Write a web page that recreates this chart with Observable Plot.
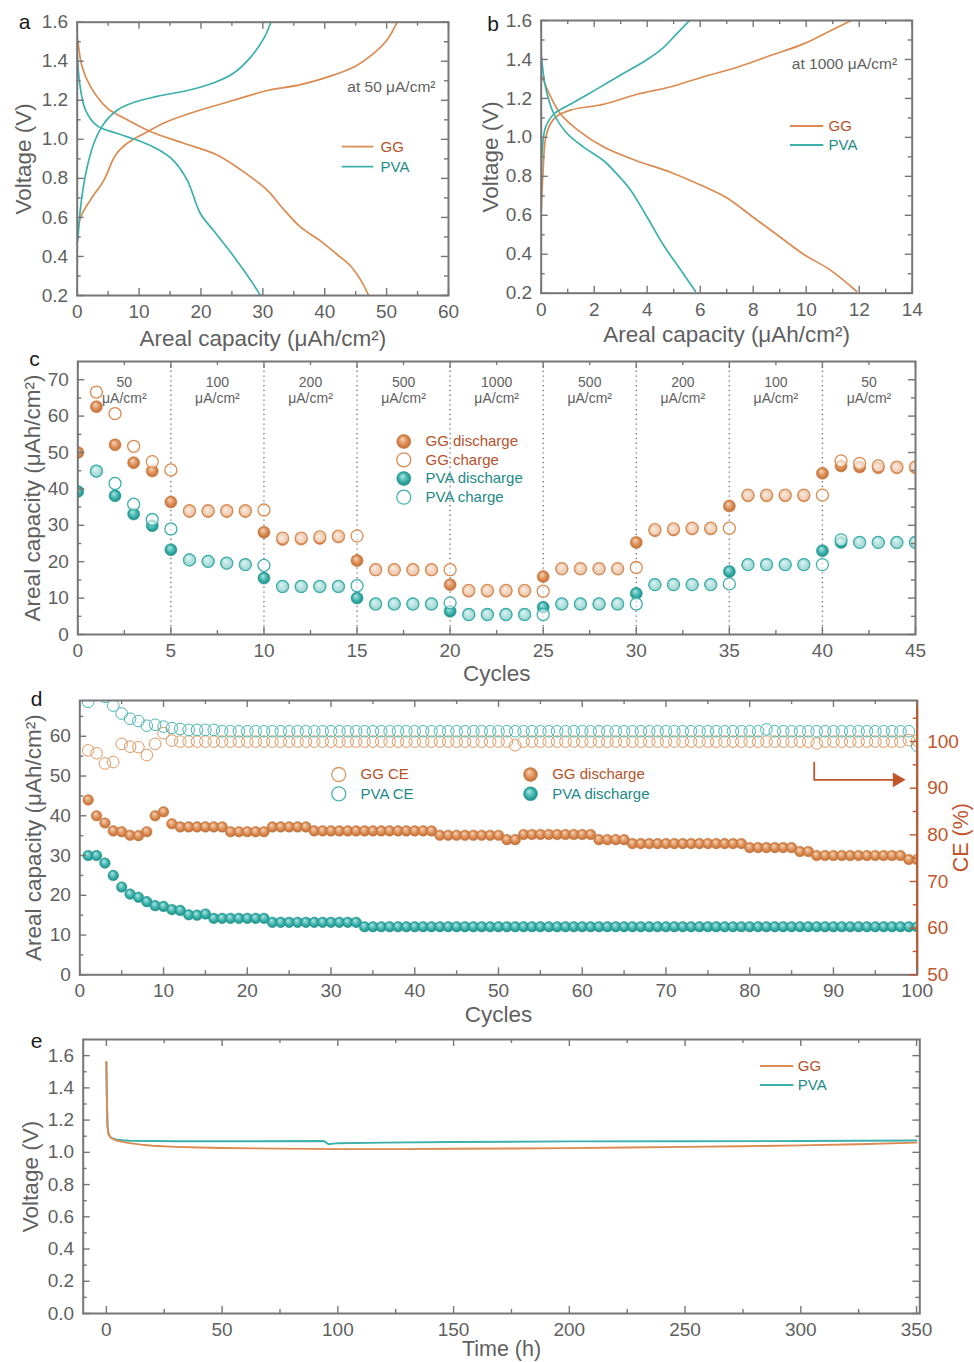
<!DOCTYPE html>
<html><head><meta charset="utf-8">
<script src="https://cdn.jsdelivr.net/npm/d3@7"></script>
<script src="https://cdn.jsdelivr.net/npm/@observablehq/plot@0.6"></script>
<style>
body{margin:0;background:#fff;}
#fig{position:relative;width:974px;height:1362px;overflow:hidden;background:#fff;}
</style></head><body><div id="fig"></div>
<script>
// ================= DATA =================
// Panel a (50 uA/cm2): capacity (uAh/cm2) vs voltage (V)
const aGGchgCap = [0, 0.54, 2.15, 4.3, 6.2, 8.1, 10.8, 14.5, 19.9, 25.3, 30.7, 36.1, 41.5, 44.7, 47.9, 50.1, 51.7];
const aGGchgV   = [0.50, 0.60, 0.69, 0.79, 0.92, 0.98, 1.03, 1.09, 1.15, 1.20, 1.25, 1.28, 1.33, 1.37, 1.44, 1.51, 1.60];
const aGGdisCap = [0.1, 0.8, 2.15, 4.85, 8.1, 11.8, 17.2, 22.6, 27.5, 30.7, 33.4, 36.1, 39.3, 42.0, 44.2, 45.8, 47.1];
const aGGdisV   = [1.51, 1.37, 1.27, 1.16, 1.10, 1.04, 0.98, 0.92, 0.82, 0.74, 0.64, 0.55, 0.48, 0.41, 0.35, 0.28, 0.20];
const aPVAchgCap = [0.1, 0.54, 1.35, 2.7, 4.3, 6.5, 9.2, 12.9, 17.8, 22.1, 25.3, 28.0, 30.2, 31.3];
const aPVAchgV   = [0.48, 0.65, 0.82, 0.98, 1.08, 1.15, 1.19, 1.22, 1.25, 1.29, 1.34, 1.42, 1.52, 1.60];
const aPVAdisCap = [0, 0.43, 1.35, 3.2, 6.5, 10.2, 13.5, 15.6, 17.8, 19.9, 22.1, 25.3, 28.0, 29.6];
const aPVAdisV   = [1.45, 1.28, 1.15, 1.07, 1.03, 0.99, 0.94, 0.89, 0.79, 0.62, 0.53, 0.40, 0.28, 0.20];

// Panel b (1000 uA/cm2)
const bGGchgCap = [0, 0.08, 0.16, 0.35, 0.6, 1.1, 2.36, 3.6, 4.9, 6.1, 7.4, 8.65, 9.9, 10.8, 11.7];
const bGGchgV   = [0.62, 0.85, 0.99, 1.07, 1.11, 1.14, 1.17, 1.22, 1.26, 1.31, 1.36, 1.42, 1.48, 1.54, 1.60];
const bGGdisCap = [0.04, 0.35, 0.73, 1.36, 2.36, 3.6, 4.9, 6.1, 7.0, 8.0, 9.0, 9.9, 10.9, 11.9];
const bGGdisV   = [1.31, 1.21, 1.12, 1.04, 0.95, 0.88, 0.82, 0.75, 0.69, 0.59, 0.49, 0.40, 0.32, 0.21];
const bPVAchgCap = [0, 0.04, 0.16, 0.48, 1.1, 2.0, 3.0, 4.0, 4.6, 5.1, 5.6];
const bPVAchgV   = [0.70, 0.93, 1.05, 1.12, 1.17, 1.24, 1.32, 1.40, 1.46, 1.53, 1.60];
const bPVAdisCap = [0, 0.16, 0.48, 0.98, 1.6, 2.36, 2.87, 3.37, 4.0, 4.6, 5.26, 5.82];
const bPVAdisV   = [1.43, 1.26, 1.12, 1.02, 0.95, 0.88, 0.81, 0.73, 0.59, 0.45, 0.32, 0.21];

// Panel c: rate capability, index = cycle number (0..45)
const cGGdis = [50.0, 62.6, 52.1, 47.2, 44.9, 36.4, 33.8, 33.8, 33.8, 33.8, 28.1, 26.1, 26.2, 26.4, 26.8, 20.3, 17.8, 17.8, 17.8, 17.8, 13.7, 11.9, 11.9, 11.9, 11.9, 15.9, 18.0, 18.0, 18.0, 18.0, 25.3, 28.5, 28.7, 29.0, 29.0, 35.3, 38.1, 38.1, 38.1, 38.1, 44.3, 46.3, 46.0, 45.8, 45.8, 45.8];
const cGGchg = [null, 66.6, 60.7, 51.7, 47.5, 45.2, 34.0, 34.0, 34.0, 34.0, 34.2, 26.5, 26.5, 26.8, 27.0, 27.1, 17.8, 17.8, 17.8, 17.8, 17.8, 12.1, 12.1, 12.1, 12.1, 11.9, 18.1, 18.1, 18.1, 18.1, 18.4, 28.8, 29.0, 29.2, 29.2, 29.2, 38.3, 38.3, 38.3, 38.3, 38.3, 47.7, 47.0, 46.3, 46.0, 46.0];
const cPVAdis = [39.3, 44.9, 38.1, 33.1, 29.9, 23.3, 20.5, 20.1, 19.6, 19.2, 15.5, 13.2, 13.2, 13.2, 13.2, 10.0, 8.4, 8.4, 8.4, 8.4, 6.4, 5.5, 5.5, 5.5, 5.5, 7.5, 8.4, 8.4, 8.4, 8.4, 11.3, 13.7, 13.7, 13.7, 13.7, 17.3, 19.2, 19.2, 19.2, 19.2, 23.0, 25.3, 25.3, 25.3, 25.3, 25.3];
const cPVAchg = [null, 44.9, 41.5, 35.8, 31.6, 29.0, 20.5, 20.1, 19.6, 19.2, 19.0, 13.2, 13.2, 13.2, 13.2, 13.4, 8.4, 8.4, 8.4, 8.4, 8.7, 5.5, 5.5, 5.5, 5.5, 5.5, 8.4, 8.4, 8.4, 8.4, 8.4, 13.7, 13.7, 13.7, 13.7, 13.9, 19.2, 19.2, 19.2, 19.2, 19.2, 26.0, 25.3, 25.3, 25.3, 25.3];
const cRates = [50, 100, 200, 500, 1000, 500, 200, 100, 50];
const cSegStart = [0, 5, 10, 15, 20, 25, 30, 35, 40];
const cBounds = [5, 10, 15, 20, 25, 30, 35, 40];

// Panel d: cycling, index+1 = cycle number (1..100)
const dGGdis = [44, 40, 38.2, 36.2, 36, 35.1, 35, 36, 40, 41,
  38, 37.2, 37.2, 37.2, 37.2, 37.2, 37.2, 36, 36, 36,
  36, 36, 37.2, 37.2, 37.2, 37.2, 37.2, 36.2, 36.2, 36.2,
  36.2, 36.2, 36.2, 36.2, 36.2, 36.2, 36.2, 36.2, 36.2, 36.2,
  36.2, 36.2, 35.1, 35.1, 35.1, 35.1, 35.1, 35.1, 35.1, 35.1,
  34, 34, 35.3, 35.3, 35.3, 35.3, 35.3, 35.3, 35.3, 35.3,
  35.3, 34, 34, 34, 34, 33, 33, 33, 33, 33,
  33, 33, 33, 33, 33, 33, 33, 33, 33, 32,
  32, 32, 32, 32, 32, 31, 31, 30, 30, 30,
  30, 30, 30, 30, 30, 30, 30, 30, 29, 29];
const dPVAdis = [30, 30, 28.1, 25, 22.1, 20.3, 19.5, 18.4, 17.4, 17.2,
  16.4, 16.2, 15.1, 15, 15.3, 14.2, 14.2, 14.2, 14.2, 14.2,
  14.2, 14.2, 13.2, 13.2, 13.2, 13.2, 13.2, 13.2, 13.2, 13.2,
  13.2, 13.2, 13.2, 12.1, 12.1, 12.1, 12.1, 12.1, 12.1, 12.1,
  12.1, 12.1, 12.1, 12.1, 12.1, 12.1, 12.1, 12.1, 12.1, 12.1,
  12.1, 12.1, 12.1, 12.1, 12.1, 12.1, 12.1, 12.1, 12.1, 12.1,
  12.1, 12.1, 12.1, 12.1, 12.1, 12.1, 12.1, 12.1, 12.1, 12.1,
  12.1, 12.1, 12.1, 12.1, 12.1, 12.1, 12.1, 12.1, 12.1, 12.1,
  12.1, 12.1, 12.1, 12.1, 12.1, 12.1, 12.1, 12.1, 12.1, 12.1,
  12.1, 12.1, 12.1, 12.1, 12.1, 12.1, 12.1, 12.1, 12.1, 12.1];
const dGGce = [98.1, 97.5, 95.3, 95.6, 99.5, 98.9, 98.8, 97.1, 99.5, 101.8,
  100.2, 100, 100, 100, 100, 100, 100, 100, 100, 100,
  100, 100, 100, 100, 100, 100, 100, 100, 100, 100,
  100, 100, 100, 100, 100, 100, 100, 100, 100, 100,
  100, 100, 100, 100, 100, 100, 100, 100, 100, 100,
  100, 99.2, 100, 100, 100, 100, 100, 100, 100, 100,
  100, 100, 100, 100, 100, 100, 100, 100, 100, 100,
  100, 100, 100, 100, 100, 100, 100, 100, 100, 100,
  100, 100, 100, 100, 100, 100, 100, 99.6, 100, 100,
  100, 100, 100, 100, 100, 100, 100, 100, 100.3, 100.2];
const dPVAce = [108.5, 110.5, 109.6, 107.7, 106.0, 104.9, 104.4, 103.4, 103.6, 103.2,
  102.9, 102.7, 102.5, 102.5, 102.5, 102.5, 102.2, 102.2, 102.2, 102.2,
  102.2, 102.2, 102.2, 102.2, 102.2, 102.2, 102.2, 102.2, 102.2, 102.2,
  102.2, 102.2, 102.2, 102.2, 102.2, 102.2, 102.2, 102.2, 102.2, 102.2,
  102.2, 102.2, 102.2, 102.2, 102.2, 102.2, 102.2, 102.2, 102.2, 102.2,
  102.2, 102.2, 102.2, 102.2, 102.2, 102.2, 102.2, 102.2, 102.2, 102.2,
  102.2, 102.2, 102.2, 102.2, 102.2, 102.2, 102.2, 102.2, 102.2, 102.2,
  102.2, 102.2, 102.2, 102.2, 102.2, 102.2, 102.2, 102.2, 102.2, 102.2,
  102.2, 102.6, 102.2, 102.2, 102.2, 102.2, 102.2, 102.2, 102.2, 102.2,
  102.2, 102.2, 102.2, 102.2, 102.2, 102.2, 102.2, 102.2, 102.2, 99.1];
const dArrow = [{cycle: 87.7, ce: 95.5}, {cycle: 87.7, ce: 91.8}, {cycle: 97.6, ce: 91.8}];

// Panel e: voltage vs time (h)
const eGGt = [0, 0.2, 0.5, 1, 2, 4, 7, 10, 15, 20, 30, 40, 50, 75, 100, 125, 150, 175, 200, 225, 250, 275, 300, 325, 350];
const eGGv = [1.56, 1.35, 1.16, 1.11, 1.09, 1.075, 1.065, 1.057, 1.048, 1.041, 1.034, 1.03, 1.027, 1.023, 1.02, 1.02, 1.022, 1.024, 1.026, 1.03, 1.034, 1.038, 1.043, 1.05, 1.06];
const ePVAt = [0, 0.2, 0.5, 1, 2, 4, 7, 10, 30, 60, 94, 95, 96, 98, 100, 120, 150, 200, 250, 300, 350];
const ePVAv = [1.56, 1.35, 1.16, 1.11, 1.09, 1.08, 1.075, 1.072, 1.069, 1.069, 1.07, 1.06, 1.05, 1.054, 1.056, 1.06, 1.064, 1.068, 1.069, 1.07, 1.073];

// Tick values
const aXmaj = [0, 10, 20, 30, 40, 50, 60], aXmin = [5, 15, 25, 35, 45, 55];
const vMaj = [0.2, 0.4, 0.6, 0.8, 1.0, 1.2, 1.4, 1.6], vMin = [0.3, 0.5, 0.7, 0.9, 1.1, 1.3, 1.5];
const bXmaj = [0, 2, 4, 6, 8, 10, 12, 14], bXmin = [1, 3, 5, 7, 9, 11, 13];
const cXmaj = [0, 5, 10, 15, 20, 25, 30, 35, 40, 45], cXmin = [2.5, 7.5, 12.5, 17.5, 22.5, 27.5, 32.5, 37.5, 42.5];
const cYmaj = [0, 10, 20, 30, 40, 50, 60, 70], cYmin = [5, 15, 25, 35, 45, 55, 65];
const dXmaj = [0, 10, 20, 30, 40, 50, 60, 70, 80, 90, 100], dXmin = [5, 15, 25, 35, 45, 55, 65, 75, 85, 95];
const dYmaj = [0, 10, 20, 30, 40, 50, 60], dYmin = [5, 15, 25, 35, 45, 55, 65];
const ceMaj = [50, 60, 70, 80, 90, 100], ceMin = [55, 65, 75, 85, 95, 105];
const eXmaj = [0, 50, 100, 150, 200, 250, 300, 350], eXmin = [25, 75, 125, 175, 225, 275, 325];
const eYmaj = [0, 0.2, 0.4, 0.6, 0.8, 1.0, 1.2, 1.4, 1.6], eYmin = [0.1, 0.3, 0.5, 0.7, 0.9, 1.1, 1.3, 1.5];

// ================= STYLE / HELPERS =================
const FONT = '"Liberation Sans", Arial, "DejaVu Sans", sans-serif';
const TXT = "#5f5f5f", FRAME = "#767676", INK = "#1a1a1a";
const OR = "#DB8B51", TE = "#3CB0AA", ORT = "#B4532C", TET = "#1E8985", CEC = "#C0562C";
const TICKFS = 19, TITLEFS = 22.5;
const fmt1 = d3.format(".1f");
const fig = document.getElementById("fig");
const pairs = (xs, ys) => xs.map((x, i) => ({x, y: ys[i]}));
const series = (arr, off) => arr.map((v, i) => ({cycle: i + off, v})).filter(d => d.v != null);

function at(p, px, py) { return {frameAnchor: "top-left", dx: px - p.ml, dy: py - p.mt}; }
function txt(p, px, py, s, o = {}) {
  return Plot.text([s], {...at(p, px, py), text: d => d, fontSize: 15, fontFamily: FONT, lineAnchor: "middle", textAnchor: "middle", ...o});
}
function seg(x1, y1, x2, y2, color, w = 1.8) {
  return () => {
    const l = document.createElementNS("http://www.w3.org/2000/svg", "line");
    l.setAttribute("x1", x1); l.setAttribute("y1", y1); l.setAttribute("x2", x2); l.setAttribute("y2", y2);
    l.setAttribute("stroke", color); l.setAttribute("stroke-width", w);
    return l;
  };
}
function ballDefs(prefix) {
  return () => {
    const s = d3.create("svg:defs");
    [[prefix + "gg", "#F7D6BC", "#DD9058", "#C06C33"], [prefix + "pva", "#B4E8E4", "#3FB4AE", "#1D8C86"]].forEach(([id, a, b, c]) => {
      const g = s.append("radialGradient").attr("id", id).attr("cx", "0.5").attr("cy", "0.5").attr("r", "0.5").attr("fx", "0.38").attr("fy", "0.3");
      g.append("stop").attr("offset", "0").attr("stop-color", a);
      g.append("stop").attr("offset", "0.6").attr("stop-color", b);
      g.append("stop").attr("offset", "1").attr("stop-color", c);
    });
    return s.node();
  };
}
function frameTicks(p, o) {
  const W = p.width - p.ml - p.mr, H = p.height - p.mt - p.mb, L = 7, l = 4, sw = 1.4;
  const tx = (arr, len) => [
    Plot.tickX(arr, {x: d => d, insetTop: H - len, stroke: FRAME, strokeWidth: sw}),
    Plot.tickX(arr, {x: d => d, insetBottom: H - len, stroke: FRAME, strokeWidth: sw})];
  const ty = (arr, len, left, color) => Plot.tickY(arr, {y: d => d, [left ? "insetRight" : "insetLeft"]: W - len, stroke: color, strokeWidth: sw});
  return [
    ...tx(o.xMaj, L), ...tx(o.xMin, l),
    ty(o.yMaj, L, true, FRAME), ty(o.yMin, l, true, FRAME),
    ty(o.rMaj ?? o.yMaj, L, false, o.rColor ?? FRAME), ty(o.rMin ?? o.yMin, l, false, o.rColor ?? FRAME)
  ];
}
function mount(p, marks) {
  const svg = Plot.plot({
    width: p.width, height: p.height,
    marginLeft: p.ml, marginTop: p.mt, marginRight: p.mr, marginBottom: p.mb,
    x: p.x, y: p.y,
    style: {fontFamily: FONT, fontSize: "18px", color: TXT, background: "transparent", overflow: "visible"},
    marks
  });
  svg.style.position = "absolute";
  svg.style.left = p.left + "px";
  svg.style.top = p.top + "px";
  svg.style.maxWidth = "none";
  svg.style.overflow = "visible";
  fig.appendChild(svg);
}
const yTitle = (s, dx, o = {}) => Plot.text([s], {frameAnchor: "left", dx, rotate: -90, textAnchor: "middle", lineAnchor: "middle", text: d => d, fontSize: TITLEFS, fill: TXT, fontFamily: FONT, ...o});
const xTitle = (s, dy) => Plot.text([s], {frameAnchor: "bottom", dy, textAnchor: "middle", lineAnchor: "middle", text: d => d, fontSize: TITLEFS, fill: TXT, fontFamily: FONT});
const axX = (ticks, fmt) => Plot.axisX(ticks, {tickSize: 0, tickPadding: 9, fontSize: TICKFS, color: TXT, label: null, tickFormat: fmt});
const axY = (ticks, fmt) => Plot.axisY(ticks, {tickSize: 0, tickPadding: 9, fontSize: TICKFS, color: TXT, label: null, tickFormat: fmt});

// ================= PANEL a =================
{
  const p = {left: 0, top: 0, width: 470, height: 360, ml: 76.7, mt: 21.7, mr: 22, mb: 65,
    x: {domain: [0, 60]}, y: {domain: [0.2, 1.6]}};
  const ln = (xs, ys, c) => Plot.line(pairs(xs, ys), {x: "x", y: "y", stroke: c, strokeWidth: 1.7, curve: "catmull-rom", clip: "frame"});
  mount(p, [
    ln(aGGchgCap, aGGchgV, OR), ln(aGGdisCap, aGGdisV, OR),
    ln(aPVAchgCap, aPVAchgV, TE), ln(aPVAdisCap, aPVAdisV, TE),
    Plot.frame({stroke: FRAME, strokeWidth: 2}),
    ...frameTicks(p, {xMaj: aXmaj, xMin: aXmin, yMaj: vMaj, yMin: vMin}),
    axX(aXmaj, d => d), axY(vMaj, fmt1),
    yTitle("Voltage (V)", -53.7), xTitle("Areal capacity (μAh/cm²)", 43),
    txt(p, 24, 22, "a", {fontSize: 21, fill: INK}),
    txt(p, 435, 86.7, "at 50 μA/cm²", {textAnchor: "end", fill: TXT, fontSize: 15.5}),
    seg(341.7, 146.7, 373.3, 146.7, OR), seg(341.7, 166.7, 373.3, 166.7, TE),
    txt(p, 380, 146.7, "GG", {textAnchor: "start", fill: ORT}),
    txt(p, 380, 166.7, "PVA", {textAnchor: "start", fill: TET})
  ]);
}

// ================= PANEL b =================
{
  const p = {left: 470, top: 0, width: 504, height: 360, ml: 70.7, mt: 20, mr: 62.3, mb: 67.3,
    x: {domain: [0, 14]}, y: {domain: [0.2, 1.6]}};
  const ln = (xs, ys, c) => Plot.line(pairs(xs, ys), {x: "x", y: "y", stroke: c, strokeWidth: 1.7, curve: "catmull-rom", clip: "frame"});
  mount(p, [
    ln(bGGchgCap, bGGchgV, OR), ln(bGGdisCap, bGGdisV, OR),
    ln(bPVAchgCap, bPVAchgV, TE), ln(bPVAdisCap, bPVAdisV, TE),
    Plot.frame({stroke: FRAME, strokeWidth: 2}),
    ...frameTicks(p, {xMaj: bXmaj, xMin: bXmin, yMaj: vMaj, yMin: vMin}),
    axX(bXmaj, d => d), axY(vMaj, fmt1),
    yTitle("Voltage (V)", -50.7), xTitle("Areal capacity (μAh/cm²)", 42),
    txt(p, 22.5, 24, "b", {fontSize: 21, fill: INK}),
    txt(p, 426.7, 63.3, "at 1000 μA/cm²", {textAnchor: "end", fill: TXT, fontSize: 15.5}),
    seg(320, 126, 353.3, 126, OR), seg(320, 145, 353.3, 145, TE),
    txt(p, 358, 126, "GG", {textAnchor: "start", fill: ORT}),
    txt(p, 358, 145, "PVA", {textAnchor: "start", fill: TET})
  ]);
}

// ================= PANEL c =================
{
  const p = {left: 0, top: 340, width: 974, height: 350, ml: 77.3, mt: 21, mr: 59, mb: 56,
    x: {domain: [0, 45]}, y: {domain: [0, 75]}};
  const openFill = {fill: "white", fillOpacity: 0.6};
  mount(p, [
    ballDefs("c"),
    Plot.ruleX(cBounds, {x: d => d, stroke: "#7f7f7f", strokeWidth: 1.4, strokeDasharray: "1.4,3.4"}),
    Plot.text(cRates, {x: (d, i) => cSegStart[i] + 2.5, frameAnchor: "top", dy: 20.7, lineAnchor: "middle", text: d => String(d), fontSize: 14, fill: TXT, fontFamily: FONT}),
    Plot.text(cRates, {x: (d, i) => cSegStart[i] + 2.5, frameAnchor: "top", dy: 37, lineAnchor: "middle", text: () => "μA/cm²", fontSize: 14, fill: TXT, fontFamily: FONT}),
    Plot.dot(series(cGGdis, 0), {x: "cycle", y: "v", r: 6, fill: "url(#cgg)", stroke: "#C77A44", strokeWidth: 0.6, clip: "frame"}),
    Plot.dot(series(cGGchg, 0), {x: "cycle", y: "v", r: 6, ...openFill, stroke: OR, strokeWidth: 1.3, clip: "frame"}),
    Plot.dot(series(cPVAdis, 0), {x: "cycle", y: "v", r: 6, fill: "url(#cpva)", stroke: "#2A9C96", strokeWidth: 0.6, clip: "frame"}),
    Plot.dot(series(cPVAchg, 0), {x: "cycle", y: "v", r: 6, ...openFill, stroke: TE, strokeWidth: 1.3, clip: "frame"}),
    Plot.frame({stroke: FRAME, strokeWidth: 2}),
    ...frameTicks(p, {xMaj: cXmaj, xMin: cXmin, yMaj: cYmaj, yMin: cYmin}),
    axX(cXmaj, d => d), axY(cYmaj, d => d),
    yTitle("Areal capacity (μAh/cm²)", -45.3), xTitle("Cycles", 39),
    txt(p, 34, 19, "c", {fontSize: 21, fill: INK}),
    Plot.dot([0], {...at(p, 403.3, 101), r: 7, fill: "url(#cgg)", stroke: "#C77A44", strokeWidth: 0.6}),
    Plot.dot([0], {...at(p, 403.3, 119.3), r: 7, fill: "white", stroke: OR, strokeWidth: 1.3}),
    Plot.dot([0], {...at(p, 403.3, 138), r: 7, fill: "url(#cpva)", stroke: "#2A9C96", strokeWidth: 0.6}),
    Plot.dot([0], {...at(p, 403.3, 156.7), r: 7, fill: "white", stroke: TE, strokeWidth: 1.3}),
    txt(p, 425, 101, "GG discharge", {textAnchor: "start", fill: ORT}),
    txt(p, 425, 119.3, "GG charge", {textAnchor: "start", fill: ORT}),
    txt(p, 425, 138, "PVA discharge", {textAnchor: "start", fill: TET}),
    txt(p, 425, 156.7, "PVA charge", {textAnchor: "start", fill: TET})
  ]);
}

// ================= PANEL d =================
{
  const D_YMAX = 69, CE_MIN = 50, CE_MAX = 108.8;
  const ceToY = ce => (ce - CE_MIN) / (CE_MAX - CE_MIN) * D_YMAX;
  const yToCe = y => CE_MIN + y / D_YMAX * (CE_MAX - CE_MIN);
  const p = {left: 0, top: 690, width: 974, height: 340, ml: 79.3, mt: 10, mr: 57.3, mb: 55.7,
    x: {domain: [0, 100]}, y: {domain: [0, D_YMAX]}};
  mount(p, [
    ballDefs("d"),
    Plot.dot(series(dGGce, 1), {x: "cycle", y: d => ceToY(d.v), r: 5.8, fill: "none", stroke: "#E0975F", strokeWidth: 1, clip: "frame"}),
    Plot.dot(series(dPVAce, 1), {x: "cycle", y: d => ceToY(d.v), r: 5.8, fill: "none", stroke: "#47B6B0", strokeWidth: 1, clip: "frame"}),
    Plot.dot(series(dGGdis, 1), {x: "cycle", y: "v", r: 5.3, fill: "url(#dgg)", stroke: "#C87A44", strokeWidth: 0.5, clip: "frame"}),
    Plot.dot(series(dPVAdis, 1), {x: "cycle", y: "v", r: 5.3, fill: "url(#dpva)", stroke: "#2A9C96", strokeWidth: 0.5, clip: "frame"}),
    Plot.line(dArrow, {x: "cycle", y: d => ceToY(d.ce), stroke: CEC, strokeWidth: 1.8}),
    Plot.dot([dArrow[2]], {x: "cycle", y: d => ceToY(d.ce), symbol: "triangle", rotate: 90, r: 5.5, fill: CEC}),
    Plot.frame({stroke: FRAME, strokeWidth: 2}),
    Plot.ruleX([100], {x: d => d, stroke: CEC, strokeWidth: 2}),
    ...frameTicks(p, {xMaj: dXmaj, xMin: dXmin, yMaj: dYmaj, yMin: dYmin,
      rMaj: ceMaj.map(ceToY), rMin: ceMin.map(ceToY), rColor: CEC}),
    axX(dXmaj, d => d), axY(dYmaj, d => d),
    Plot.axisY(ceMaj.map(ceToY), {anchor: "right", tickSize: 0, tickPadding: 10, fontSize: TICKFS, color: CEC, label: null, tickFormat: d => d3.format(".0f")(yToCe(d))}),
    yTitle("Areal capacity (μAh/cm²)", -46.3),
    Plot.text(["CE (%)"], {frameAnchor: "right", dx: 44, rotate: -90, textAnchor: "middle", lineAnchor: "middle", text: d => d, fontSize: 21.5, fill: CEC, fontFamily: FONT}),
    xTitle("Cycles", 40),
    txt(p, 36, 9, "d", {fontSize: 21, fill: INK}),
    Plot.dot([0], {...at(p, 338.3, 84), r: 7, fill: "white", stroke: "#E0975F", strokeWidth: 1.3}),
    Plot.dot([0], {...at(p, 338.3, 103.3), r: 7, fill: "white", stroke: "#47B6B0", strokeWidth: 1.3}),
    txt(p, 360, 84, "GG CE", {textAnchor: "start", fill: ORT}),
    txt(p, 360, 103.3, "PVA CE", {textAnchor: "start", fill: TET}),
    Plot.dot([0], {...at(p, 530, 84), r: 7, fill: "url(#dgg)", stroke: "#C87A44", strokeWidth: 0.5}),
    Plot.dot([0], {...at(p, 530, 103.3), r: 7, fill: "url(#dpva)", stroke: "#2A9C96", strokeWidth: 0.5}),
    txt(p, 551.7, 84, "GG discharge", {textAnchor: "start", fill: ORT}),
    txt(p, 551.7, 103.3, "PVA discharge", {textAnchor: "start", fill: TET})
  ]);
}

// ================= PANEL e =================
{
  const p = {left: 0, top: 1025, width: 974, height: 337, ml: 82.7, mt: 14, mr: 54.7, mb: 49,
    x: {domain: [-10, 351.4]}, y: {domain: [0, 1.7]}};
  mount(p, [
    Plot.line(pairs(ePVAt, ePVAv), {x: "x", y: "y", stroke: TE, strokeWidth: 1.9, clip: "frame"}),
    Plot.line(pairs(eGGt, eGGv), {x: "x", y: "y", stroke: OR, strokeWidth: 1.9, clip: "frame"}),
    Plot.frame({stroke: FRAME, strokeWidth: 2}),
    ...frameTicks(p, {xMaj: eXmaj, xMin: eXmin, yMaj: eYmaj, yMin: eYmin}),
    axX(eXmaj, d => d), axY(eYmaj, fmt1),
    yTitle("Voltage (V)", -52.7),
    Plot.text(["Time (h)"], {frameAnchor: "bottom", dy: 35.5, textAnchor: "middle", lineAnchor: "middle", text: d => d, fontSize: 21.5, fill: TXT, fontFamily: FONT}),
    txt(p, 36, 16, "e", {fontSize: 21, fill: INK}),
    seg(760, 41, 793.3, 41, OR), seg(760, 60, 793.3, 60, TE),
    txt(p, 797.3, 41, "GG", {textAnchor: "start", fill: ORT}),
    txt(p, 797.3, 60, "PVA", {textAnchor: "start", fill: TET})
  ]);
}
</script></body></html>
